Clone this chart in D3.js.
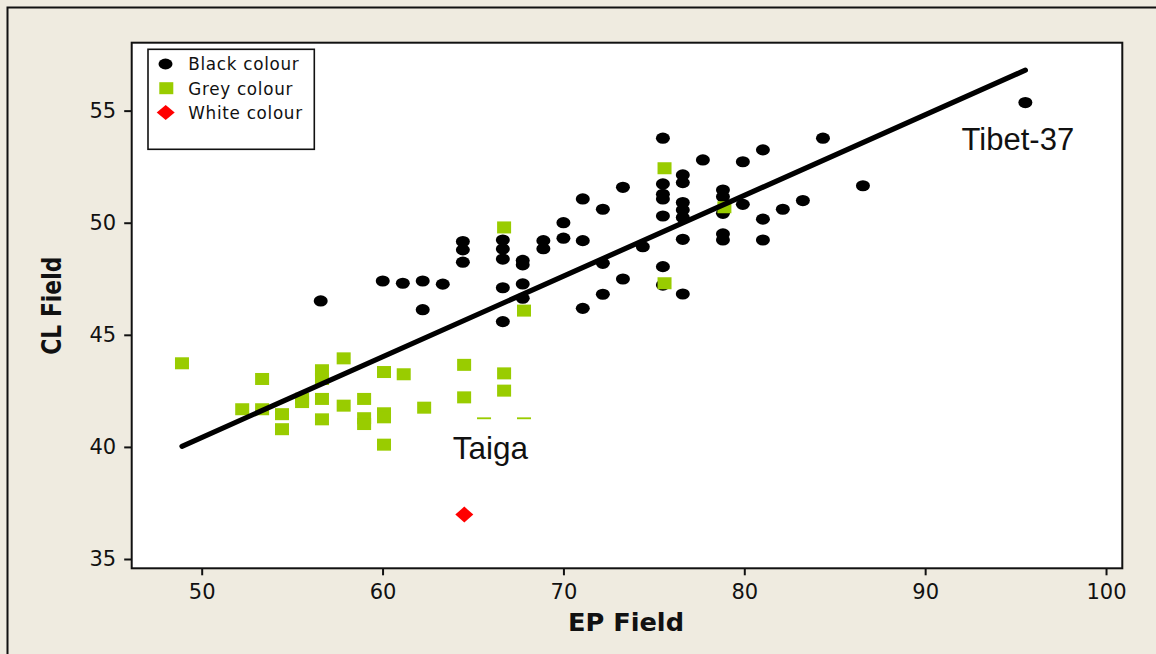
<!DOCTYPE html>
<html>
<head>
<meta charset="utf-8">
<script src="https://cdn.jsdelivr.net/npm/d3@7"></script>
<style>
  html, body { margin: 0; padding: 0; background: #EFEBE0; }
  svg { display: block; }
</style>
</head>
<body>
<svg id="chart" width="1156" height="654"></svg>
<script>
// ---- data ----
const blackEP = [56.58, 60.01, 61.12, 62.22, 62.22, 63.33, 64.44, 64.44, 64.44,
  66.65, 66.65, 66.65, 66.65, 66.65, 67.75, 67.75, 67.75, 67.75, 68.89, 68.89,
  70.00, 70.00, 71.07, 71.07, 71.07, 72.18, 72.18, 72.18, 73.29, 73.29, 74.39,
  75.50, 75.50, 75.50, 75.50, 75.50, 75.50, 75.50,
  76.60, 76.60, 76.60, 76.60, 76.60, 76.60, 76.60, 77.71,
  78.82, 78.82, 78.82, 78.82, 78.82, 79.92, 79.92, 81.03, 81.03, 81.03,
  82.13, 83.24, 84.35, 86.56, 95.54];
const blackCL = [46.51, 47.40, 47.30, 47.40, 46.12, 47.26, 49.16, 48.79, 48.24,
  49.23, 48.83, 48.38, 47.10, 45.59, 48.32, 48.12, 47.27, 46.63, 49.20, 48.84,
  50.00, 49.31, 51.06, 49.20, 46.18, 50.60, 48.19, 46.81, 51.58, 47.49, 48.93,
  53.77, 51.73, 51.27, 51.06, 50.30, 48.04, 47.22,
  52.13, 51.79, 50.90, 50.57, 50.23, 49.26, 46.82, 52.80,
  51.46, 51.16, 50.42, 49.50, 49.23, 52.72, 50.82, 53.25, 50.16, 49.23,
  50.60, 50.99, 53.77, 51.65, 55.36];

const greyEP = [48.91, 52.24, 53.34, 53.34, 54.44, 54.44, 55.55, 55.55,
  56.65, 56.65, 56.65, 56.65, 57.85, 57.85, 58.98, 58.98, 58.98,
  60.08, 60.08, 60.08, 60.08, 61.17, 62.30, 64.51, 64.51, 65.61,
  66.72, 66.72, 66.72, 67.82, 67.82, 75.59, 75.59, 78.90];
const greyCL = [43.73, 41.68, 43.03, 41.68, 41.46, 40.79, 42.15, 42.00,
  43.42, 43.03, 42.14, 41.23, 43.95, 41.84, 42.14, 41.28, 41.02,
  43.34, 41.50, 41.32, 40.10, 43.24, 41.75, 43.66, 42.21, 41.05,
  49.79, 43.28, 42.51, 46.08, 41.05, 52.43, 47.30, 50.69];

const whiteEP = [64.52];
const whiteCL = [36.98];

// least-squares fit: [intercept, slope]
const fitCoef = [22.43, 0.3598];

const seriesNames = ["Black colour", "Grey colour", "White colour"];
const xTicks = [50, 60, 70, 80, 90, 100];
const yTicks = [35, 40, 45, 50, 55];
const xTitle = "EP Field";
const yTitle = "CL Field";
const noteTexts = ["Tibet-37", "Taiga"];

// ---- layout ----
const svg = d3.select("#chart");
const plot = { left: 131.7, right: 1122.3, top: 42.7, bottom: 568.3 };

const x = d3.scaleLinear().domain([46.13, 100.9]).range([plot.left, plot.right]);
const y = d3.scaleLinear().domain([34.585, 58.03]).range([plot.bottom, plot.top]);

// outer figure frame (top and left edges visible)
svg.append("rect")
  .attr("x", 7.5).attr("y", 7.5)
  .attr("width", 1200).attr("height", 700)
  .attr("fill", "#EFEBE0")
  .attr("stroke", "#111").attr("stroke-width", 2);

// plot area
svg.append("rect")
  .attr("x", plot.left).attr("y", plot.top)
  .attr("width", plot.right - plot.left).attr("height", plot.bottom - plot.top)
  .attr("fill", "#fff");

// axes
const xAxis = svg.append("g")
  .attr("transform", `translate(0,${plot.bottom})`)
  .call(d3.axisBottom(x).tickValues(xTicks).tickSize(7).tickPadding(9).tickSizeOuter(0));
const yAxis = svg.append("g")
  .attr("transform", `translate(${plot.left},0)`)
  .call(d3.axisLeft(y).tickValues(yTicks).tickSize(7.5).tickPadding(8).tickSizeOuter(0));
[xAxis, yAxis].forEach(g => {
  g.select(".domain").remove();
  g.selectAll(".tick line").attr("stroke", "#111").attr("stroke-width", 2);
  g.selectAll(".tick text")
    .attr("fill", "#111")
    .style("font-family", "'DejaVu Sans', Verdana, sans-serif")
    .style("font-size", "21px");
});

// symbols
const black = blackEP.map((v, i) => ({ ep: v, cl: blackCL[i] }));
const grey = greyEP.map((v, i) => ({ ep: v, cl: greyCL[i] }));
const white = whiteEP.map((v, i) => ({ ep: v, cl: whiteCL[i] }));

svg.append("g").selectAll("ellipse").data(black).join("ellipse")
  .attr("cx", d => x(d.ep)).attr("cy", d => y(d.cl))
  .attr("rx", 7).attr("ry", 5.6)
  .attr("fill", "#000");

svg.append("g").selectAll("rect").data(grey).join("rect")
  .attr("x", d => x(d.ep) - 7).attr("y", d => y(d.cl) - 6)
  .attr("width", 14).attr("height", 12)
  .attr("fill", "#99CC00");

const diamond = (cx, cy, w, h) => `M${cx},${cy - h / 2}L${cx + w / 2},${cy}L${cx},${cy + h / 2}L${cx - w / 2},${cy}Z`;
svg.append("g").selectAll("path").data(white).join("path")
  .attr("d", d => diamond(x(d.ep), y(d.cl), 18, 16))
  .attr("fill", "#FF0000");

// fitted line across the data range
const allEP = blackEP.concat(greyEP, whiteEP);
const [xMin, xMax] = d3.extent(allEP);
const fit = v => fitCoef[0] + fitCoef[1] * v;
svg.append("line")
  .attr("x1", x(xMin)).attr("y1", y(fit(xMin)))
  .attr("x2", x(xMax)).attr("y2", y(fit(xMax)))
  .attr("stroke", "#000").attr("stroke-width", 5.2)
  .attr("stroke-linecap", "round");

// annotations
const tibet = black[d3.maxIndex(black, d => d.ep)];
svg.append("text")
  .attr("x", x(tibet.ep) - 7.5).attr("y", y(tibet.cl) + 47.5)
  .attr("text-anchor", "middle")
  .style("font-family", "'Liberation Sans', Arial, sans-serif")
  .style("font-size", "31px").attr("fill", "#111")
  .text(noteTexts[0]);

const taiga = white[0];
const tx = x(taiga.ep) + 26, ty = y(taiga.cl) - 55.4;
svg.append("rect")
  .attr("x", tx - 46).attr("y", ty - 40)
  .attr("width", 92).attr("height", 52)
  .attr("fill", "#fff");
svg.append("text")
  .attr("x", tx).attr("y", ty)
  .attr("text-anchor", "middle")
  .style("font-family", "'Liberation Sans', Arial, sans-serif")
  .style("font-size", "31.5px").attr("fill", "#111")
  .text(noteTexts[1]);

// plot frame on top
svg.append("rect")
  .attr("x", plot.left).attr("y", plot.top)
  .attr("width", plot.right - plot.left).attr("height", plot.bottom - plot.top)
  .attr("fill", "none").attr("stroke", "#111").attr("stroke-width", 2);

// axis titles
svg.append("text")
  .attr("x", 626).attr("y", 630.7)
  .attr("text-anchor", "middle")
  .style("font-family", "'DejaVu Sans', Verdana, sans-serif")
  .style("font-weight", "bold").style("font-size", "25px")
  .attr("textLength", 116).attr("lengthAdjust", "spacingAndGlyphs")
  .attr("fill", "#111")
  .text(xTitle);
svg.append("text")
  .attr("transform", "translate(61,305.7) rotate(-90)")
  .attr("text-anchor", "middle")
  .style("font-family", "'DejaVu Sans', Verdana, sans-serif")
  .style("font-weight", "bold").style("font-size", "26px")
  .attr("textLength", 98).attr("lengthAdjust", "spacingAndGlyphs")
  .attr("fill", "#111")
  .text(yTitle);

// legend
const lg = svg.append("g");
lg.append("rect")
  .attr("x", 148).attr("y", 49.3).attr("width", 166.3).attr("height", 100)
  .attr("fill", "#fff").attr("stroke", "#111").attr("stroke-width", 1.6);
const rowY = [64, 88.2, 112.4];
lg.append("ellipse").attr("cx", 165.5).attr("cy", rowY[0]).attr("rx", 7).attr("ry", 5.4).attr("fill", "#000");
lg.append("rect").attr("x", 159.3).attr("y", rowY[1] - 6).attr("width", 14).attr("height", 12).attr("fill", "#99CC00");
lg.append("path").attr("d", diamond(165.7, rowY[2], 18, 15)).attr("fill", "#FF0000");
lg.selectAll("text.lbl").data(seriesNames).join("text")
  .attr("class", "lbl")
  .attr("x", 188.3).attr("y", (d, i) => rowY[i] + 6.4)
  .style("font-family", "'DejaVu Sans', Verdana, sans-serif")
  .style("font-size", "16.8px").style("letter-spacing", "0.7px")
  .attr("fill", "#111")
  .text(d => d);
</script>
</body>
</html>
